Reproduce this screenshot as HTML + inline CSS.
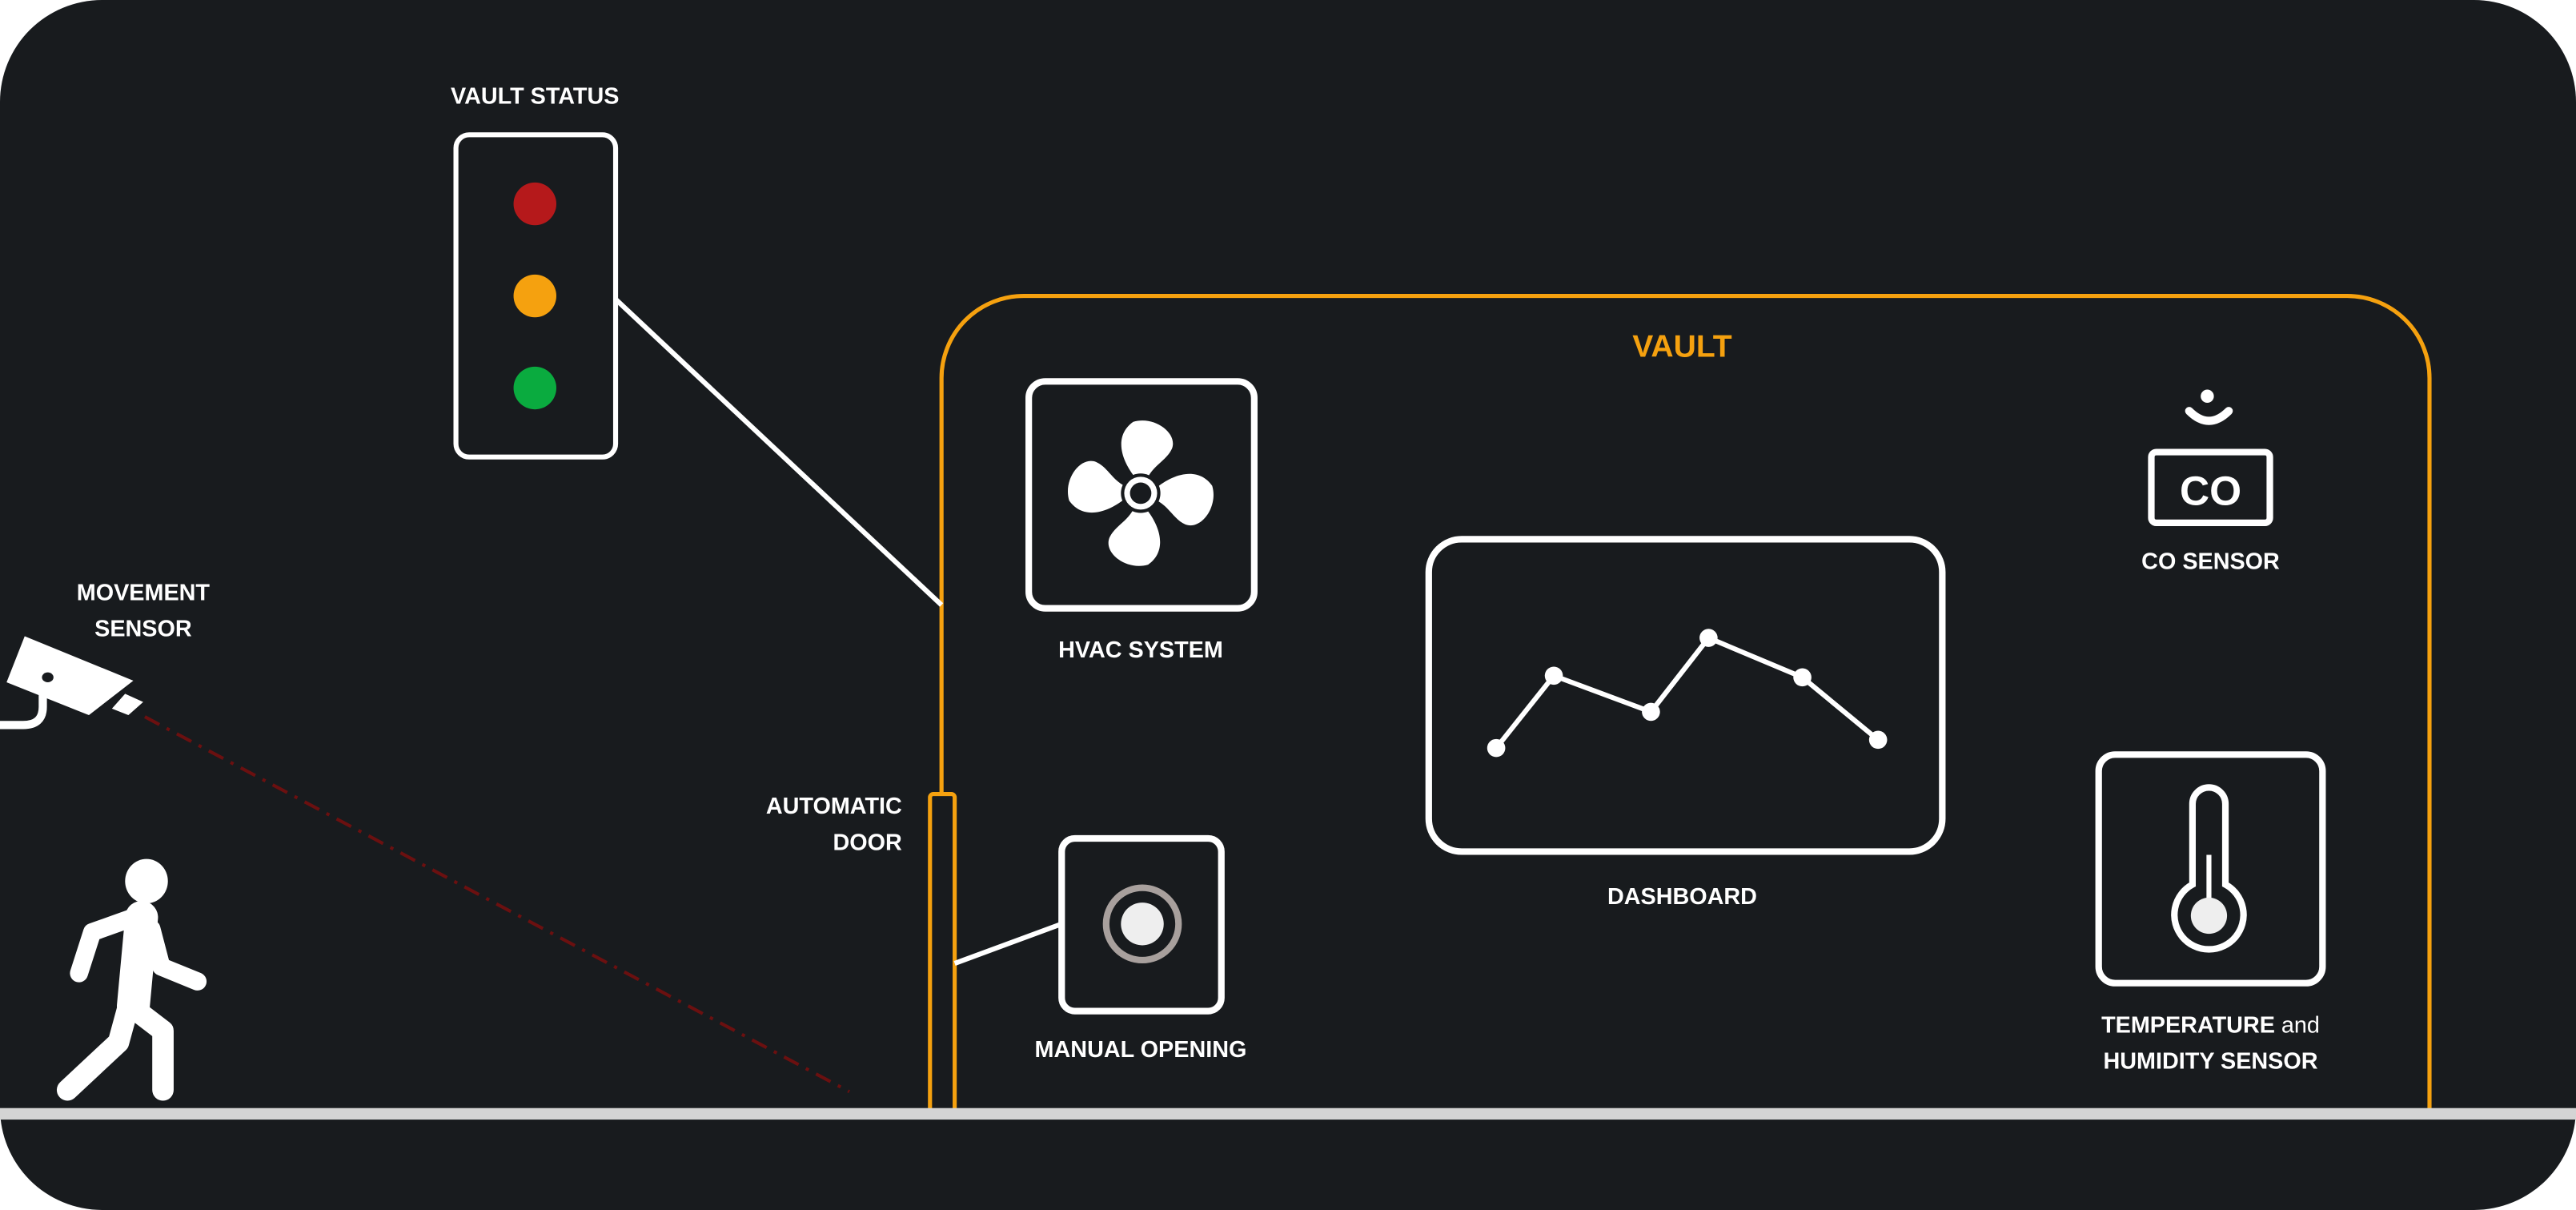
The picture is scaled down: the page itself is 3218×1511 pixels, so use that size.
<!DOCTYPE html>
<html><head><meta charset="utf-8"><style>
html,body{margin:0;padding:0;background:#fff;}
svg{display:block;}
text{font-family:"Liberation Sans",sans-serif;font-weight:bold;fill:#fff;text-anchor:middle;}
</style></head><body>
<svg width="3218" height="1511" viewBox="0 0 1565 736" preserveAspectRatio="none">
<rect x="0" y="0" width="1565" height="736" rx="62" fill="#181b1e"/>
<path d="M572,676 V230 A50,50 0 0 1 622,180 H1426 A50,50 0 0 1 1476,230 V676" fill="none" stroke="#f5a10f" stroke-width="2.5"/>
<text x="1022" y="217" font-size="19" style="fill:#f5a10f">VAULT</text>
<g>
<rect x="277" y="82" width="97" height="196" rx="8" fill="none" stroke="#fff" stroke-width="3"/>
<circle cx="325" cy="124" r="13" fill="#b5191b"/>
<circle cx="325" cy="180" r="13" fill="#f5a10f"/>
<circle cx="325" cy="236" r="13" fill="#0aab3f"/>
</g>
<text x="325" y="63" font-size="14">VAULT STATUS</text>
<line x1="374" y1="182" x2="572" y2="368" stroke="#fff" stroke-width="3"/>
<g>
<rect x="625" y="232" width="137" height="138" rx="10" fill="none" stroke="#fff" stroke-width="4"/>
<g transform="translate(693,300)" fill="#fff">
<path d="M-4,-8 C-16,-18 -22,-32 -12,-42 C0,-48 16,-40 14,-30 C12,-22 4,-18 2,-8Z" transform="rotate(10)"/>
<path d="M-4,-8 C-16,-18 -22,-32 -12,-42 C0,-48 16,-40 14,-30 C12,-22 4,-18 2,-8Z" transform="rotate(100)"/>
<path d="M-4,-8 C-16,-18 -22,-32 -12,-42 C0,-48 16,-40 14,-30 C12,-22 4,-18 2,-8Z" transform="rotate(190)"/>
<path d="M-4,-8 C-16,-18 -22,-32 -12,-42 C0,-48 16,-40 14,-30 C12,-22 4,-18 2,-8Z" transform="rotate(280)"/>
<circle r="12" fill="#181b1e"/><circle r="10" fill="#fff"/><circle r="6.5" fill="#181b1e"/>
</g></g>
<text x="693" y="400" font-size="14">HVAC SYSTEM</text>
<g>
<rect x="868" y="328" width="312" height="190" rx="20" fill="none" stroke="#fff" stroke-width="4"/>
<polyline points="909,455 944,411 1003,433 1038,388 1095,412 1141,450" fill="none" stroke="#fff" stroke-width="3"/>
<g fill="#fff"><circle cx="909" cy="455" r="5.5"/><circle cx="944" cy="411" r="5.5"/><circle cx="1003" cy="433" r="5.5"/><circle cx="1038" cy="388" r="5.5"/><circle cx="1095" cy="412" r="5.5"/><circle cx="1141" cy="450" r="5.5"/></g>
</g>
<text x="1022" y="550" font-size="14">DASHBOARD</text>
<g>
<circle cx="1341" cy="241" r="4" fill="#fff"/>
<path d="M1330,250 Q1342,262 1354,250" fill="none" stroke="#fff" stroke-width="5" stroke-linecap="round"/>
<rect x="1307" y="275" width="72" height="43" rx="3" fill="none" stroke="#fff" stroke-width="4"/>
<text x="1343" y="307" font-size="25" style="font-weight:600">CO</text>
</g>
<text x="1343" y="346" font-size="14">CO SENSOR</text>
<g>
<rect x="1275" y="459" width="136" height="139" rx="10" fill="none" stroke="#fff" stroke-width="4"/>
<path d="M1332,538 V489 A10,10 0 0 1 1352,489 V538 A21,21 0 1 1 1332,538Z" fill="none" stroke="#fff" stroke-width="4"/>
<line x1="1342" y1="520" x2="1342" y2="555" stroke="#fff" stroke-width="3"/>
<circle cx="1342" cy="557" r="11" fill="#eee"/>
</g>
<text x="1343" y="628" font-size="14">TEMPERATURE <tspan style="font-weight:normal">and</tspan></text>
<text x="1343" y="650" font-size="14">HUMIDITY SENSOR</text>
<rect x="565" y="483" width="15" height="196" rx="2" fill="#181b1e" stroke="#f5a10f" stroke-width="2.5"/>
<text x="548" y="495" font-size="14" style="text-anchor:end">AUTOMATIC</text>
<text x="548" y="517" font-size="14" style="text-anchor:end">DOOR</text>
<line x1="580" y1="586" x2="645" y2="562" stroke="#fff" stroke-width="3"/>
<rect x="645" y="510" width="97" height="105" rx="8" fill="none" stroke="#fff" stroke-width="4"/>
<circle cx="694" cy="562" r="22" fill="none" stroke="#a8a09d" stroke-width="4"/>
<circle cx="694" cy="562" r="13" fill="#eee"/>
<text x="693" y="643" font-size="14">MANUAL OPENING</text>
<text x="87" y="365" font-size="14">MOVEMENT</text>
<text x="87" y="387" font-size="14">SENSOR</text>
<g>
<polygon points="15,387 81,414 54,435 4,415" fill="#fff"/>
<ellipse cx="29" cy="412" rx="3.5" ry="3" fill="#181b1e"/>
<polygon points="76,422 87,427 78,435 68,431" fill="#fff"/>
<path d="M26,420 V430 Q26,441 14,441 H0" fill="none" stroke="#fff" stroke-width="5"/>
</g>
<line x1="88" y1="436" x2="516" y2="664" stroke="#6b1010" stroke-width="2" stroke-dasharray="10,5,2,5"/>
<g stroke="#fff" stroke-linecap="round" stroke-linejoin="round" fill="none">
<ellipse cx="89" cy="536" rx="13" ry="13.5" fill="#fff" stroke="none"/>
<path d="M86,558 L81,612" stroke-width="20"/>
<path d="M84,557 L56,567 L48,592" stroke-width="11"/>
<path d="M92,565 L98,588 L120,597" stroke-width="11"/>
<path d="M78,612 L72,634 L41,663" stroke-width="13"/>
<path d="M82,614 L99,627 L99,663" stroke-width="13"/>
</g>
<rect x="0" y="674" width="1565" height="7" fill="#d4d4d4"/>
</svg>
</body></html>
